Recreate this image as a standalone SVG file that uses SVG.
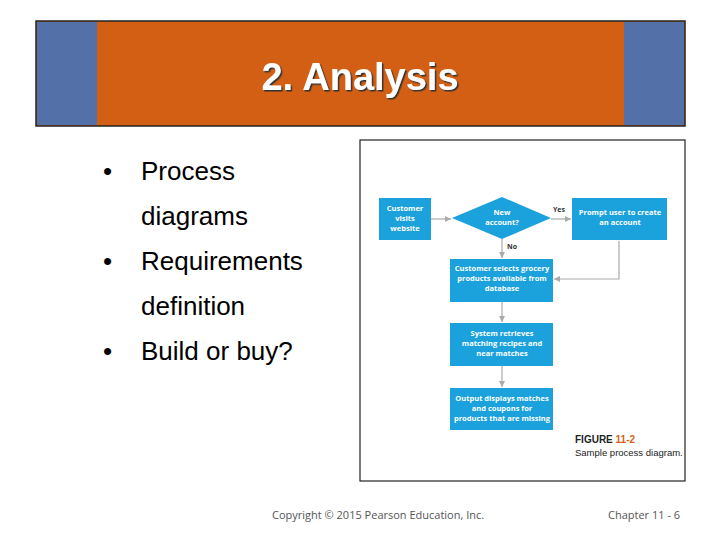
<svg xmlns="http://www.w3.org/2000/svg" width="720" height="540" viewBox="0 0 720 540">
<defs>
<style>
.box{fill:#1ba1dc}
.bt{font-family:"Open Sans","DejaVu Sans",sans-serif;font-size:7.5px;font-weight:bold;fill:#fff;text-anchor:middle}
.bl{font-family:"Liberation Sans",Arial,sans-serif;font-size:26px;fill:#000}
.ln{stroke:#aaa;stroke-width:1.2;fill:none;marker-end:url(#ar)}
.ft{font-family:"Open Sans","DejaVu Sans",sans-serif;font-size:11px;fill:#555}
</style>
<marker id="ar" viewBox="0 0 6 6" refX="6" refY="3" markerWidth="5" markerHeight="5" orient="auto"><path d="M0,0L6,3L0,6z" fill="#aaa"/></marker>
<filter id="sh"><feDropShadow dx="1.5" dy="1.5" stdDeviation="0.5" flood-color="#333"/></filter>
</defs>
<rect width="720" height="540" fill="#fff"/>
<g id="title">
<rect x="36" y="21" width="649" height="105" fill="#d35f14" stroke="#222" stroke-width="1.5"/>
<rect x="37" y="22" width="60" height="103" fill="#5470a8"/>
<rect x="624" y="22" width="60" height="103" fill="#5470a8"/>
<text x="360" y="90" text-anchor="middle" font-family="Liberation Sans,Arial,sans-serif" font-size="38" font-weight="bold" fill="#fff" filter="url(#sh)">2. Analysis</text>
</g>
<g id="bullets">
<text class="bl" x="103" y="180">•</text><text class="bl" x="141" y="180">Process</text>
<text class="bl" x="141" y="225">diagrams</text>
<text class="bl" x="103" y="270">•</text><text class="bl" x="141" y="270">Requirements</text>
<text class="bl" x="141" y="315">definition</text>
<text class="bl" x="103" y="360">•</text><text class="bl" x="141" y="360">Build or buy?</text>
</g>
<rect x="360" y="140" width="325" height="341" fill="#fff" stroke="#222" stroke-width="1.2"/>
<g id="connectors">
<path class="ln" d="M431,219H451"/>
<path class="ln" d="M551,219H571"/>
<path class="ln" d="M502,239V258"/>
<path class="ln" d="M619,241V279H554"/>
<path class="ln" d="M502,302V322"/>
<path class="ln" d="M502,366V387"/>
<text x="559" y="212" font-family="Open Sans,sans-serif" font-size="7" font-weight="bold" fill="#333" text-anchor="middle">Yes</text>
<text x="512" y="249" font-family="Open Sans,sans-serif" font-size="7" font-weight="bold" fill="#333" text-anchor="middle">No</text>
</g>
<g id="n1"><rect class="box" x="379" y="198" width="52" height="42"/><text class="bt" x="405" y="211">Customer</text><text class="bt" x="405" y="221">visits</text><text class="bt" x="405" y="231">website</text></g>
<g id="n2"><path class="box" d="M452,218L502,197L551,218L502,239z"/><text class="bt" x="502" y="215">New</text><text class="bt" x="502" y="225">account?</text></g>
<g id="n3"><rect class="box" x="572" y="198" width="95" height="42"/><text class="bt" x="620" y="215">Prompt user to create</text><text class="bt" x="620" y="225">an account</text></g>
<g id="n4"><rect class="box" x="450" y="259" width="103" height="43"/><text class="bt" x="502" y="271">Customer selects grocery</text><text class="bt" x="502" y="281">products available from</text><text class="bt" x="502" y="291">database</text></g>
<g id="n5"><rect class="box" x="450" y="323" width="103" height="43"/><text class="bt" x="502" y="336">System retrieves</text><text class="bt" x="502" y="346">matching recipes and</text><text class="bt" x="502" y="356">near matches</text></g>
<g id="n6"><rect class="box" x="450" y="388" width="103" height="42"/><text class="bt" x="502" y="401">Output displays matches</text><text class="bt" x="502" y="411">and coupons for</text><text class="bt" x="502" y="421">products that are missing</text></g>
<g id="caption">
<text x="575" y="443" font-family="Liberation Sans Narrow,Liberation Sans,sans-serif" font-size="10" font-weight="bold" fill="#222">FIGURE <tspan fill="#d35f14">11-2</tspan></text>
<text x="575" y="456" font-family="Liberation Sans Narrow,Liberation Sans,sans-serif" font-size="9.5" fill="#222">Sample process diagram.</text>
</g>
<text class="ft" x="272" y="519">Copyright © 2015 Pearson Education, Inc.</text>
<text class="ft" x="608" y="519">Chapter 11 - 6</text>
</svg>
